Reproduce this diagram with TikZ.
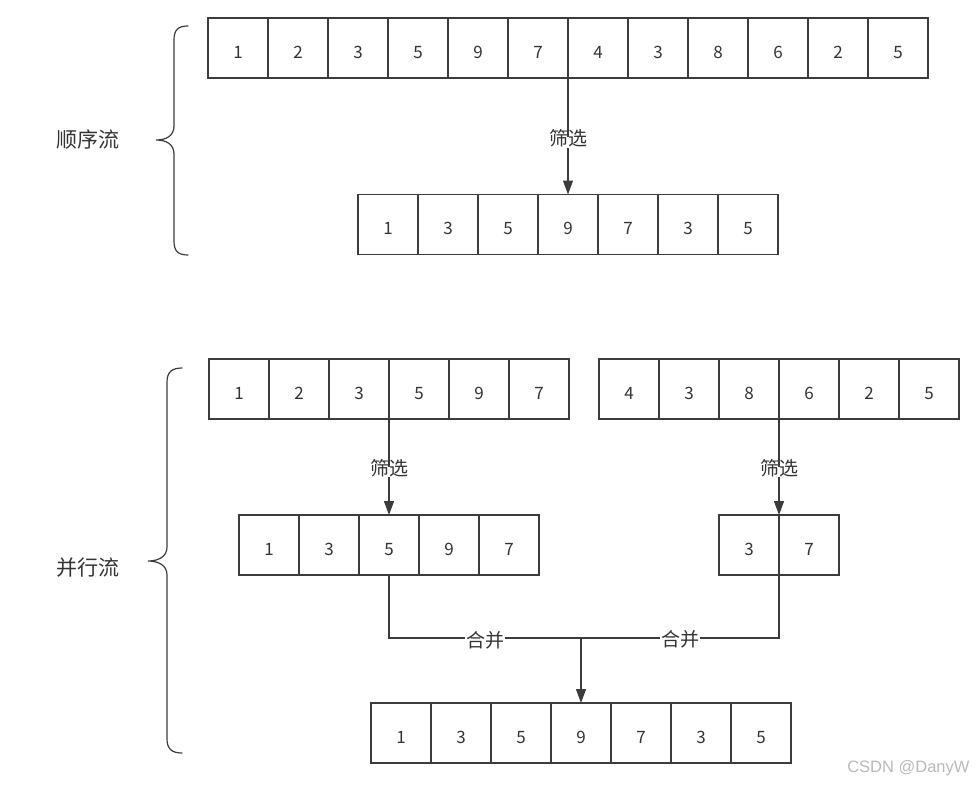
\documentclass[tikz,border=0pt]{standalone}
\usepackage{fontspec}
\setmainfont{Noto Sans CJK SC}
\newfontfamily\wmfont{Liberation Sans}
\usetikzlibrary{arrows.meta}
\definecolor{ln}{HTML}{3C3C3C}
\definecolor{tx}{HTML}{333333}
\newcommand{\dg}[1]{\raisebox{-6.5pt}{#1}}
\newcommand{\lw}[2]{\raisebox{-#1}{#2}}
\tikzset{
  cell/.style={draw=ln, line width=1.2pt, minimum width=60pt, minimum height=60pt, inner sep=0pt, outer sep=0pt, font=\fontsize{17pt}{17pt}\selectfont, text=tx, text height=0.72em, text depth=0pt},
  conn/.style={draw=ln, line width=1.3pt},
  arr/.style={conn, -{Triangle[length=14pt,width=10pt]}},
  lab/.style={fill=white, inner sep=1pt, text=tx, font=\fontsize{19pt}{19pt}\selectfont, text height=0.8em, text depth=0.08em},
  side/.style={text=tx, font=\fontsize{21pt}{21pt}\selectfont},
  brace/.style={draw=ln, line width=1.2pt, line cap=round}
}
\begin{document}
\begin{tikzpicture}[x=1pt,y=-1pt]
\useasboundingbox (0,0) rectangle (977,785);
% top sequential row
\foreach \v [count=\i] in {1,2,3,5,9,7,4,3,8,6,2,5}
  \node[cell] (t\i) at ({208+60*\i-30},48) {\dg{\v}};
% filtered row
\foreach \v [count=\i] in {1,3,5,9,7,3,5}
  \node[cell] (b\i) at ({358+60*\i-30},224.5) {\dg{\v}};
\draw[arr] (t6.south east) -- node[lab, yshift=-6pt]{筛选} (b4.north);
% parallel rows
\foreach \v [count=\i] in {1,2,3,5,9,7}
  \node[cell] (l\i) at ({209+60*\i-30},389) {\dg{\v}};
\foreach \v [count=\i] in {4,3,8,6,2,5}
  \node[cell] (r\i) at ({599+60*\i-30},389) {\dg{\v}};
\foreach \v [count=\i] in {1,3,5,9,7}
  \node[cell] (m\i) at ({239+60*\i-30},545) {\dg{\v}};
\foreach \v [count=\i] in {3,7}
  \node[cell] (n\i) at ({719+60*\i-30},545) {\dg{\v}};
\draw[arr] (l3.south east) -- node[lab, yshift=-5pt]{筛选} (m3.north);
\draw[arr] (r3.south east) -- node[lab, yshift=-5pt]{筛选} (n1.north east);
% final row
\foreach \v [count=\i] in {1,3,5,9,7,3,5}
  \node[cell] (f\i) at ({371+60*\i-30},733) {\dg{\v}};
\coordinate (j) at (581,638);
\draw[conn] (m3.south) |- node[lab,pos=0.75, inner ysep=3pt]{\lw{6pt}{合并}} (j);
\draw[conn] (n1.south east) |- node[lab,pos=0.75, inner ysep=3pt]{\lw{5pt}{合并}} (j);
\draw[arr] (j) -- (f4.north);
% braces
\draw[brace] (188,26) .. controls (178,26) and (174,30) .. (174,40) -- (174,126)
  .. controls (174,136) and (166,140) .. (156,140)
  .. controls (166,140) and (174,144) .. (174,154) -- (174,241)
  .. controls (174,251) and (178,255) .. (188,255);
\draw[brace] (182,368) .. controls (172,368) and (167,372) .. (167,382) -- (167,547)
  .. controls (167,557) and (158,561) .. (148,561)
  .. controls (158,561) and (167,565) .. (167,575) -- (167,739)
  .. controls (167,749) and (172,753) .. (182,753);
\node[side] (s1) at (88,140) {顺序流};
\node[side] (s2) at (88,568) {并行流};
\node[text=gray!55, font=\wmfont\fontsize{16.5pt}{16.5pt}\selectfont, anchor=east] (wm) at (973,768) {CSDN @DanyW};
\end{tikzpicture}
\end{document}
